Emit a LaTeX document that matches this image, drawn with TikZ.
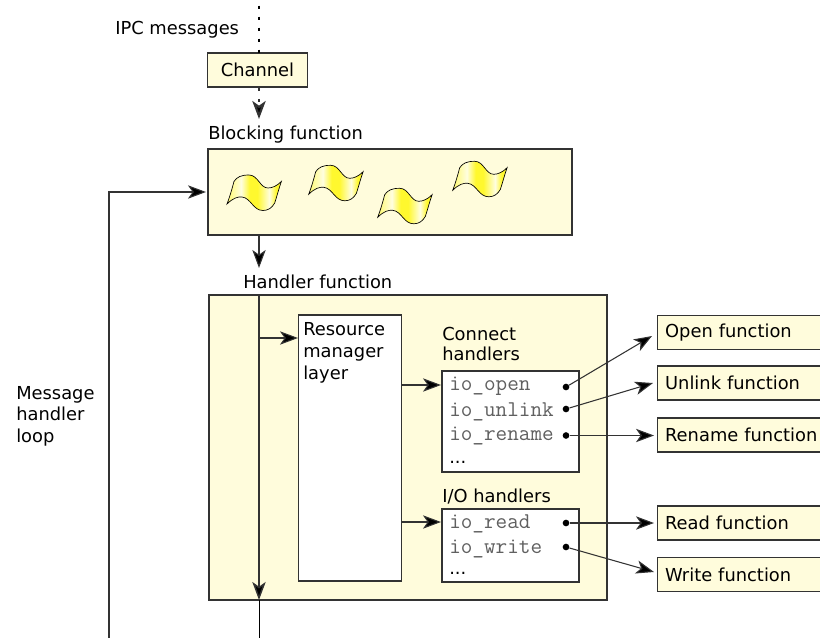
\documentclass[tikz,border=0pt]{standalone}
\usepackage{fontspec}
\setmainfont{DejaVu Sans}
\usetikzlibrary{arrows.meta}
\definecolor{boxyellow}{HTML}{FFFCDC}
\definecolor{linegray}{HTML}{333333}
\definecolor{codegray}{HTML}{606060}
\definecolor{waveyellow}{HTML}{FFF82E}
\pgfdeclarehorizontalshading{waveshade}{100bp}{color(0bp)=(waveyellow!70!white); color(25bp)=(waveyellow!70!white); color(38bp)=(white!85!waveyellow); color(46bp)=(waveyellow); color(53bp)=(waveyellow); color(64bp)=(white!85!waveyellow); color(70bp)=(waveyellow); color(100bp)=(waveyellow)}
\tikzset{
  box/.style={draw=linegray, fill=boxyellow, line width=0.9pt, inner sep=0pt},
  whitebox/.style={draw=linegray, fill=white, line width=0.9pt, inner sep=0pt},
  fnbox/.style={box, anchor=west, minimum width=190*0.75pt, minimum height=34*0.75pt, text width=175*0.75pt, align=left},
  txt/.style={anchor=west, inner sep=0pt, font=\fontsize{13.4}{13.4}\selectfont},
  code/.style={anchor=base west, inner sep=0pt, text=codegray, font=\ttfamily\fontsize{16.9}{16.9}\selectfont},
  dotnode/.style={fill=black, circle, inner sep=0pt, minimum size=5pt},
  link/.style={draw=linegray, line width=0.8pt, -{Stealth[length=13.5pt, width=10pt, inset=3.5pt, fill=black]}},
  wave/.pic={
    \path[draw=black, line width=0.5pt, shading=waveshade] (0,0) .. controls (6,-6) and (11,-7.5) .. (15,-7) .. controls (24,-6) and (26,6.5) .. (36,6.5) .. controls (41,6.5) and (45,4) .. (47.7,-1) .. controls (50,-8) and (52,-16) .. (54.4,-22.6) .. controls (50,-18) and (45,-16) .. (41,-16) .. controls (33,-16) and (31,-29) .. (22,-29) .. controls (14,-29) and (10,-27) .. (7,-22.6) .. controls (5,-15) and (3,-8) .. (0,0) -- cycle;
  }
}
\begin{document}
\begin{tikzpicture}[x=0.75pt, y=-0.75pt, font=\fontsize{13.4}{13.4}\selectfont]
\clip (0,0) rectangle (820,638);

\node[box, minimum width=100*0.75pt, minimum height=34*0.75pt] (channel) at (257.5,70) {Channel};
\node[box, minimum width=364*0.75pt, minimum height=86*0.75pt] (blocking) at (390,192) {};
\node[box, minimum width=398*0.75pt, minimum height=305*0.75pt] (handler) at (408,447.5) {};
\node[whitebox, minimum width=103*0.75pt, minimum height=266*0.75pt] (layer) at (350,448) {};
\node[whitebox, minimum width=137*0.75pt, minimum height=101*0.75pt] (connect) at (510.5,421.5) {};
\node[whitebox, minimum width=137*0.75pt, minimum height=73*0.75pt] (iobox) at (510.5,545.5) {};

\node[txt] (ipc) at (115,30) {IPC messages};
\node[txt] (blocklabel) at (208,135) {Blocking function};
\node[txt] (handlerlabel) at (243,282) {Handler function};
\node[txt, text width=80*0.75pt, align=left, font=\fontsize{13.4}{16.2}\selectfont] (looplabel) at (16,416) {Message\\handler\\loop};
\node[txt, anchor=north west, text width=90*0.75pt, align=left, font=\fontsize{13.4}{16.5}\selectfont] (layerlabel) at (303,322.5) {Resource\\manager\\layer};
\node[txt, text width=120*0.75pt, align=left, font=\fontsize{13.4}{15.5}\selectfont] (connectlabel) at (442,344) {Connect\\handlers};
\node[txt] (iolabel) at (442,497) {I/O handlers};

\pic at (227,204) {wave};
\pic at (308.7,194.3) {wave};
\pic at (377.7,217.3) {wave};
\pic at (452.7,190.3) {wave};

\node[code] (ioopen) at (449,390.7) {io\_open};
\node[code] (iounlink) at (449,416) {io\_unlink};
\node[code] (iorename) at (449,440.7) {io\_rename};
\node[txt] (moreconnect) at (449,462) {...};
\node[code] (ioread) at (449,528.3) {io\_read};
\node[code] (iowrite) at (449,553.3) {io\_write};
\node[txt] (moreio) at (449,573) {...};

\node[dotnode] (dopen) at (566,387) {};
\node[dotnode] (dunlink) at (566,409) {};
\node[dotnode] (drename) at (566,435.5) {};
\node[dotnode] (dread) at (566,523) {};
\node[dotnode] (dwrite) at (566,547) {};

\node[fnbox] (fopen) at (657,332.5) {Open function};
\node[fnbox] (funlink) at (657,383) {Unlink function};
\node[fnbox] (frename) at (657,435) {Rename function};
\node[fnbox] (fread) at (657,523) {Read function};
\node[fnbox] (fwrite) at (657,574.5) {Write function};

\coordinate (ipctop) at (259,0);
\coordinate (chanin) at (259,53);
\coordinate (chanout) at (259,87);
\coordinate (blockin) at (259,119);
\coordinate (blockout) at (259,235);
\coordinate (handlerin) at (259,268);
\coordinate (handtop) at (259,295);
\coordinate (handbot) at (259,600);
\coordinate (handexit) at (259.5,600);
\coordinate (pageend) at (259.5,638);
\coordinate (looppage) at (109,638);
\coordinate (loopcorner) at (109,192);
\coordinate (blockleft) at (206,192);
\coordinate (layerin) at (298,338);
\coordinate (layerstart) at (259,338);
\coordinate (connectstart) at (402,385);
\coordinate (connectend) at (441,385);
\coordinate (iostart) at (402,522);
\coordinate (ioend) at (441,522);
\coordinate (topen) at (652,336);
\coordinate (tunlink) at (653,383);
\coordinate (trename) at (654,435.5);
\coordinate (tread) at (654,523);
\coordinate (twrite) at (654,572);

\draw[draw=black, line width=1.6pt, dash pattern=on 2.6pt off 5.65pt, dash phase=4.1pt] (ipctop) -- (chanin);
\draw[link, line width=1.6pt, dash pattern=on 2.6pt off 5.65pt, dash phase=7.5pt] (chanout) -- (blockin);
\draw[link] (blockout) -- (handlerin);
\draw[link, line width=1.1pt] (handtop) -- (handbot);
\draw[draw=black, line width=0.75pt] (handexit) -- (pageend);
\draw[link] (looppage) -- (loopcorner) -- (blockleft);
\draw[link] (layerstart) -- (layerin);
\draw[link] (connectstart) -- (connectend);
\draw[link] (iostart) -- (ioend);

\draw[link] (dopen) -- (topen);
\draw[link] (dunlink) -- (tunlink);
\draw[link] (drename) -- (trename);
\draw[link] (dread) -- (tread);
\draw[link] (dwrite) -- (twrite);
\end{tikzpicture}
\end{document}
